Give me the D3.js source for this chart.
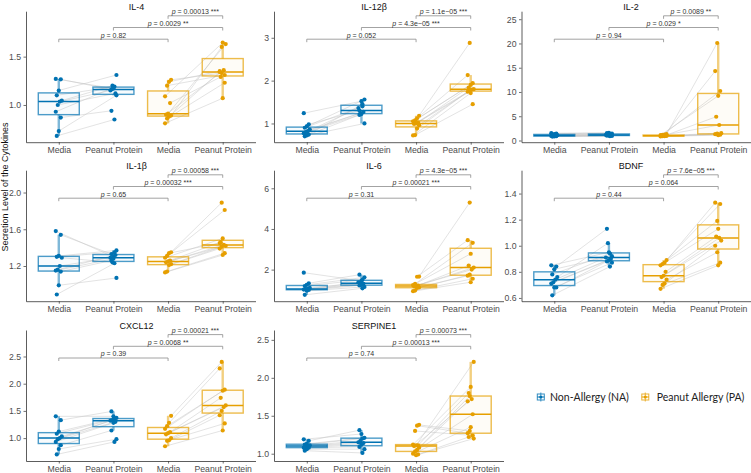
<!DOCTYPE html>
<html><head><meta charset="utf-8">
<script src="https://cdn.jsdelivr.net/npm/d3@7"></script>
<style>body{margin:0;background:#fff}</style>
</head><body><svg id="c" width="751" height="473"></svg>
<script>
const cytokines = ["IL-4","IL-12β","IL-2","IL-1β","IL-6","BDNF","CXCL12","SERPINE1"];
const categories = ["Media","Peanut Protein","Media","Peanut Protein"];
const groups = ["Non-Allergy (NA)","Peanut Allergy (PA)"];
const yAxisTitle = "Secretion Level of the Cytokines";

// values per cytokine (same order as cytokines); paired by index within a group
const naMedia = [
  [1.27,1.265,1.15,1.10,1.045,1.035,1.00,0.93,0.87,0.73,0.68],
  [1.24,0.98,0.93,0.90,0.86,0.82,0.80,0.77,0.74,0.72,0.70],
  [1.5,1.4,1.3,1.2,1.1,1.05,1.0,0.95,0.9,0.85,0.8],
  [1.58,1.54,1.31,1.30,1.29,1.20,1.16,1.15,1.14,0.99,0.89],
  [1.85,1.33,1.25,1.19,1.10,1.05,1.04,1.02,1.00,0.96,0.76],
  [0.85,0.84,0.82,0.78,0.76,0.74,0.72,0.71,0.68,0.68,0.62],
  [1.40,1.33,1.12,1.08,1.03,1.00,0.98,0.93,0.87,0.80,0.70],
  [1.19,1.17,1.13,1.12,1.11,1.10,1.09,1.08,1.08,1.06,1.04]
];
const naPeanut = [
  [1.17,1.16,1.31,1.19,1.20,1.15,1.12,1.18,0.94,1.10,0.85],
  [1.52,1.30,1.56,1.40,1.24,1.36,1.27,1.22,1.20,1.00,1.45],
  [1.6,1.5,1.4,1.3,1.2,1.15,1.1,1.05,1.0,0.95,0.9],
  [1.30,1.33,1.37,1.35,1.24,1.29,1.32,1.28,1.26,1.07,1.23],
  [1.45,1.75,1.62,1.50,1.33,1.38,1.30,1.25,1.22,1.15,1.08],
  [0.95,1.13,0.92,0.94,1.02,0.91,0.90,0.89,0.88,0.87,0.84],
  [1.40,1.49,1.37,1.35,1.33,1.32,1.30,1.28,1.14,0.98,0.93],
  [1.26,1.31,1.21,1.20,1.17,1.15,1.14,1.12,1.09,1.06,1.01]
];
const paMedia = [
  [1.26,1.24,1.20,1.09,1.02,0.91,0.90,0.89,0.88,0.86,0.81],
  [1.18,1.12,1.07,1.05,1.02,1.00,0.99,0.96,0.88,0.73,0.72],
  [1.3,1.2,1.15,1.1,1.05,1.0,1.0,0.95,0.9,0.9,0.85],
  [1.35,1.34,1.31,1.29,1.26,1.25,1.24,1.22,1.21,1.14,1.13],
  [1.66,1.65,1.30,1.24,1.22,1.20,1.18,1.12,1.10,0.97,0.94],
  [0.89,0.87,0.86,0.85,0.80,0.77,0.76,0.74,0.71,0.70,0.67],
  [1.41,1.28,1.22,1.17,1.11,1.09,1.07,1.00,0.96,0.95,0.85],
  [1.38,1.37,1.30,1.12,1.11,1.11,1.10,1.08,1.05,1.03,1.00,0.99,0.98]
];
const paPeanut = [
  [1.33,1.35,1.31,1.645,1.29,1.63,1.36,1.60,1.34,1.23,1.07],
  [2.88,2.13,1.94,1.90,1.84,1.80,1.79,1.77,1.74,1.45,1.71],
  [20.1,14.3,10.2,9.2,4.9,1.5,3.2,1.4,1.3,1.2,1.1],
  [1.89,1.45,1.81,1.50,1.46,1.42,1.43,1.41,1.39,1.34,1.32],
  [5.30,3.45,3.32,2.78,2.20,2.10,2.00,1.75,1.70,1.55,1.38],
  [1.19,1.33,1.32,1.13,1.07,1.04,1.06,0.95,1.00,0.87,0.85],
  [2.40,2.28,1.89,1.87,1.74,1.60,1.57,1.50,1.42,1.27,1.14],
  [1.30,1.27,1.24,1.88,1.80,2.21,1.72,1.76,1.69,1.52,1.35,1.22,1.20]
];
const yDomains = [[0.615,1.97],[0.563,3.62],[-0.35,26.65],[0.817,2.243],[0.447,6.89],[0.575,1.579],[0.579,2.987],[0.904,2.63]];
const yTicks = [[1.0,1.5],[1,2,3],[0,5,10,15,20,25],[1.2,1.6,2.0],[2,4,6],[0.6,0.8,1.0,1.2,1.4],[1.0,1.5,2.0,2.5],[1.0,1.5,2.0,2.5]];
const yTickLabels = [["1.0","1.5"],["1","2","3"],["0","5","10","15","20","25"],["1.2","1.6","2.0"],["2","4","6"],["0.6","0.8","1.0","1.2","1.4"],["1.0","1.5","2.0","2.5"],["1.0","1.5","2.0","2.5"]];
// comparisons: NA Media vs PA Media, NA PP vs PA PP, PA Media vs PA PP
const comparisons = [[0,2],[1,3],[2,3]];
const pLabels = [
  ["0.82","0.0029 **","0.00013 ***"],
  ["0.052","4.3e−05 ***","1.1e−05 ***"],
  ["0.94","0.029 *","0.0089 **"],
  ["0.65","0.00032 ***","0.00058 ***"],
  ["0.31","0.00021 ***","4.3e−05 ***"],
  ["0.44","0.064","7.6e−05 ***"],
  ["0.39","0.0068 **","0.00021 ***"],
  ["0.74","0.00013 ***","0.00073 ***"]
];

const svg = d3.select("#c");
const colors = ["#0072B2","#E69F00"];
const FONT = "'Liberation Sans', Arial, Helvetica, sans-serif";
const colLeft = [26, 274, 521.5], rowTop = [11.2, 170.2, 330];
const colW = 229.5, rowH = 131;
const titleX = [136.5, 374, 631];
const bracketOffsets = [28, 16.3, 4.6];

function boxStats(arr){
  const s = [...arr].sort(d3.ascending);
  const q1 = d3.quantile(s,0.25), med = d3.quantile(s,0.5), q3 = d3.quantile(s,0.75), iqr = q3-q1;
  const lo = d3.min(s.filter(v => v >= q1-1.5*iqr)), hi = d3.max(s.filter(v => v <= q3+1.5*iqr));
  return {q1, med, q3, lo, hi};
}

cytokines.forEach((name, i) => {
  const r = Math.floor(i/3), c = i%3;
  const x0 = colLeft[c], y0 = rowTop[r];
  const g = svg.append("g");
  const x = d3.scalePoint().domain([0,1,2,3]).range([x0, x0+colW]).padding(0.6);
  const y = d3.scaleLinear().domain(yDomains[i]).range([y0+rowH, y0]);
  const step = x.step();
  const sets = [naMedia[i], naPeanut[i], paMedia[i], paPeanut[i]];
  const jit = (k, j) => ((((j*5 + k*3) % 7)/6) - 0.5) * 0.11 * step;

  // paired lines
  [[0,1],[2,3]].forEach(([a,b]) => {
    sets[a].forEach((v, j) => {
      g.append("line")
        .attr("x1", x(a)+jit(a,j)).attr("y1", y(v))
        .attr("x2", x(b)+jit(b,j)).attr("y2", y(sets[b][j]))
        .attr("stroke", "#c4c4c4").attr("stroke-width", 0.6).attr("stroke-opacity", 0.8);
    });
  });

  // boxes
  sets.forEach((arr, k) => {
    const col = colors[k < 2 ? 0 : 1];
    const s = boxStats(arr);
    const bw = 0.75*step, cx = x(k);
    g.append("line").attr("x1",cx).attr("x2",cx).attr("y1",y(s.hi)).attr("y2",y(s.q3))
      .attr("stroke",col).attr("stroke-width",2.4).attr("stroke-opacity",0.5);
    g.append("line").attr("x1",cx).attr("x2",cx).attr("y1",y(s.q1)).attr("y2",y(s.lo))
      .attr("stroke",col).attr("stroke-width",2.4).attr("stroke-opacity",0.5);
    g.append("rect").attr("x",cx-bw/2).attr("y",y(s.q3)).attr("width",bw).attr("height",Math.max(0.5,y(s.q1)-y(s.q3)))
      .attr("fill",col).attr("fill-opacity",0.03).attr("stroke",col).attr("stroke-width",1.4).attr("stroke-opacity",0.7);
    g.append("line").attr("x1",cx-bw/2).attr("x2",cx+bw/2).attr("y1",y(s.med)).attr("y2",y(s.med))
      .attr("stroke",col).attr("stroke-width",1.5);
  });

  // points
  sets.forEach((arr, k) => {
    const col = colors[k < 2 ? 0 : 1];
    arr.forEach((v, j) => {
      g.append("circle").attr("cx", x(k)+jit(k,j)).attr("cy", y(v)).attr("r", 2.1).attr("fill", col);
    });
  });

  // axes
  const ya = g.append("g").attr("transform", `translate(${x0},0)`)
    .call(d3.axisLeft(y).tickValues(yTicks[i]).tickFormat((d, idx) => yTickLabels[i][idx]).tickSize(2.5).tickSizeOuter(0).tickPadding(2.5));
  const xa = g.append("g").attr("transform", `translate(0,${y0+rowH})`)
    .call(d3.axisBottom(x).tickFormat(d => categories[d]).tickSize(2.5).tickSizeOuter(0).tickPadding(2));
  [ya, xa].forEach(a => {
    a.select(".domain").attr("stroke","#333").attr("stroke-width",0.8);
    a.selectAll(".tick line").attr("stroke","#333").attr("stroke-width",0.7);
    a.selectAll("text").attr("fill","#4d4d4d").style("font-family",FONT).style("font-size","8.7px");
  });

  // title
  g.append("text").attr("x", titleX[c]).attr("y", y0-1.5).attr("text-anchor","middle")
    .style("font-family",FONT).style("font-size","9px").attr("fill","#111").text(name);

  // brackets
  comparisons.forEach(([a,b], m) => {
    const by = y0 + bracketOffsets[m];
    g.append("path").attr("d", `M${x(a)},${by+3}V${by}H${x(b)}V${by+3}`)
      .attr("fill","none").attr("stroke","#8c8c8c").attr("stroke-width",0.8);
    const t = g.append("text").attr("x",(x(a)+x(b))/2).attr("y",by-1.6).attr("text-anchor","middle")
      .style("font-family",FONT).style("font-size","7px").attr("fill","#333");
    t.append("tspan").style("font-style","italic").text("p");
    t.append("tspan").text(" = " + pLabels[i][m]);
  });
});

// y axis title
svg.append("text").attr("transform","translate(7.5,187) rotate(-90)").attr("text-anchor","middle")
  .style("font-family",FONT).style("font-size","9px").attr("fill","#111").text(yAxisTitle);

// legend
const legX = [540.8, 645.3], legTextX = [550, 656.7], legY = 397;
groups.forEach((gname, k) => {
  const col = colors[k], cx = legX[k];
  const lg = svg.append("g");
  lg.append("line").attr("x1",cx).attr("x2",cx).attr("y1",legY-4.5).attr("y2",legY+4.5).attr("stroke",col).attr("stroke-width",1.2).attr("stroke-opacity",0.6);
  lg.append("rect").attr("x",cx-3.5).attr("y",legY-3).attr("width",7).attr("height",6).attr("fill","none").attr("stroke",col).attr("stroke-width",1).attr("stroke-opacity",0.8);
  lg.append("line").attr("x1",cx-3.5).attr("x2",cx+3.5).attr("y1",legY).attr("y2",legY).attr("stroke",col).attr("stroke-width",1);
  lg.append("circle").attr("cx",cx).attr("cy",legY).attr("r",1.6).attr("fill",col);
  lg.append("text").attr("x",legTextX[k]).attr("y",legY).attr("dy","0.35em")
    .style("font-family","Lato, 'Open Sans', sans-serif").style("font-size","10.5px").attr("fill","#222").text(gname);
});
</script>
</body></html>
